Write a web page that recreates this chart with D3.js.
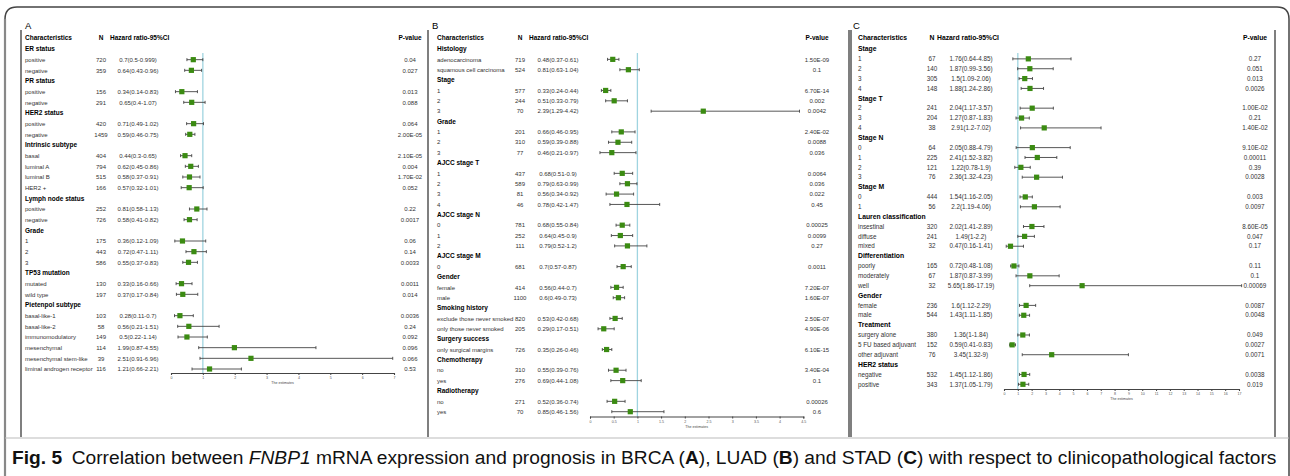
<!DOCTYPE html>
<html>
<head>
<meta charset="utf-8">
<script src="https://cdn.jsdelivr.net/npm/d3@7"></script>
<style>
  body { margin: 0; background: #fff; }
  svg { display: block; }
  text { font-family: "Liberation Sans", Arial, sans-serif; }
</style>
</head>
<body>
<svg id="fig" width="1290" height="476"></svg>
<script>
// ---- panel A : BRCA ----
const charA = ["ER status","positive","negative","PR status","positive","negative","HER2 status","positive","negative",
  "Intrinsic subtype","basal","luminal A","luminal B","HER2 +","Lymph node status","positive","negative",
  "Grade","1","2","3","TP53 mutation","mutated","wild type","Pietenpol subtype","basal-like-1","basal-like-2",
  "immunomodulatory","mesenchymal","mesenchymal stem-like","liminal androgen receptor"];
const nA  = [null,720,359,null,156,291,null,420,1459,null,404,794,515,166,null,252,726,null,175,443,586,null,130,197,null,103,58,149,114,39,116];
const hrA = [null,0.7,0.64,null,0.34,0.65,null,0.71,0.59,null,0.44,0.62,0.58,0.57,null,0.81,0.58,null,0.36,0.72,0.55,null,0.33,0.37,null,0.28,0.56,0.5,1.99,2.51,1.21];
const loA = [null,0.5,0.43,null,0.14,0.4,null,0.49,0.46,null,0.3,0.45,0.37,0.32,null,0.58,0.41,null,0.12,0.47,0.37,null,0.16,0.17,null,0.11,0.21,0.22,0.87,0.91,0.66];
const hiA = [null,0.999,0.96,null,0.83,1.07,null,1.02,0.75,null,0.65,0.86,0.91,1.01,null,1.13,0.82,null,1.09,1.11,0.83,null,0.66,0.84,null,0.7,1.51,1.14,4.55,6.96,2.21];
const pA  = [null,"0.04","0.027",null,"0.013","0.088",null,"0.064","2.00E-05",null,"2.10E-05","0.004","1.70E-02","0.052",null,"0.22","0.0017",
  null,"0.06","0.14","0.0033",null,"0.0011","0.014",null,"0.0036","0.24","0.092","0.096","0.066","0.53"];
const ticksA = [0,1,2,3,4,5,6,7];

// ---- panel B : LUAD ----
const charB = ["Histology","adenocarcinoma","squamous cell carcinoma","Stage","1","2","3","Grade","1","2","3",
  "AJCC stage T","1","2","3","4","AJCC stage N","0","1","2","AJCC stage M","0","Gender","female","male",
  "Smoking history","exclude those never smoked","only those never smoked","Surgery success","only surgical margins",
  "Chemotherapy","no","yes","Radiotherapy","no","yes"];
const nB  = [null,719,524,null,577,244,70,null,201,310,77,null,437,589,81,46,null,781,252,111,null,681,null,414,1100,null,820,205,null,726,null,310,276,null,271,70];
const hrB = [null,0.48,0.81,null,0.33,0.51,2.39,null,0.66,0.59,0.46,null,0.68,0.79,0.56,0.78,null,0.68,0.64,0.79,null,0.7,null,0.56,0.6,null,0.53,0.29,null,0.35,null,0.55,0.69,null,0.52,0.85];
const loB = [null,0.37,0.63,null,0.24,0.33,1.29,null,0.46,0.39,0.21,null,0.51,0.63,0.34,0.42,null,0.55,0.45,0.52,null,0.57,null,0.44,0.49,null,0.42,0.17,null,0.26,null,0.39,0.44,null,0.36,0.46];
const hiB = [null,0.61,1.04,null,0.44,0.79,4.42,null,0.95,0.88,0.97,null,0.9,0.99,0.92,1.47,null,0.84,0.9,1.2,null,0.87,null,0.7,0.73,null,0.68,0.51,null,0.46,null,0.76,1.08,null,0.74,1.56];
const pB  = [null,"1.50E-09","0.1",null,"6.70E-14","0.002","0.0042",null,"2.40E-02","0.0088","0.036",null,"0.0064","0.036","0.022","0.45",
  null,"0.00025","0.0099","0.27",null,"0.0011",null,"7.20E-07","1.60E-07",null,"2.50E-07","4.90E-06",null,"6.10E-15",null,"3.40E-04","0.1",null,"0.00026","0.6"];
const ticksB = [0,0.5,1,1.5,2,2.5,3,3.5,4,4.5];

// ---- panel C : STAD ----
const charC = ["Stage","1","2","3","4","Stage T","2","3","4","Stage N","0","1","2","3","Stage M","0","1",
  "Lauren classification","insestinal","diffuse","mixed","Differentiation","poorly","moderately","well",
  "Gender","female","male","Treatment","surgery alone","5 FU based adjuvant","other adjuvant","HER2 status","negative","positive"];
const nC  = [null,67,140,305,148,null,241,204,38,null,64,225,121,76,null,444,56,null,320,241,32,null,165,67,32,null,236,544,null,380,152,76,null,532,343];
const hrC = [null,1.76,1.87,1.5,1.88,null,2.04,1.27,2.91,null,2.05,2.41,1.22,2.36,null,1.54,2.2,null,2.02,1.49,0.47,null,0.72,1.87,5.65,null,1.6,1.43,null,1.36,0.59,3.45,null,1.45,1.37];
const loC = [null,0.64,0.99,1.09,1.24,null,1.17,0.87,1.2,null,0.88,1.52,0.78,1.32,null,1.16,1.19,null,1.41,1,0.16,null,0.48,0.87,1.86,null,1.12,1.11,null,1,0.41,1.32,null,1.12,1.05];
const hiC = [null,4.85,3.56,2.06,2.86,null,3.57,1.83,7.02,null,4.79,3.82,1.9,4.23,null,2.05,4.06,null,2.89,2.2,1.41,null,1.08,3.99,17.19,null,2.29,1.85,null,1.84,0.83,9,null,1.86,1.79];
const pC  = [null,"0.27","0.051","0.013","0.0026",null,"1.00E-02","0.21","1.40E-02",null,"9.10E-02","0.00011","0.39","0.0028",null,"0.003","0.0097",
  null,"8.60E-05","0.047","0.17",null,"0.11","0.1","0.00069",null,"0.0087","0.0048",null,"0.049","0.0027","0.0071",null,"0.0038","0.019"];
const ticksC = [0,1,2,3,4,5,6,7,8,9,10,11,12,13,14,15,16,17];

const svg = d3.select("#fig");
const green = "#3b8b12";

// outer frame (rounded top corners)
svg.append("path")
  .attr("d", "M5,476 L5,19 Q5,7 17,7 L1277,7 Q1289,7 1289,19 L1289,476")
  .attr("fill", "none").attr("stroke", "#444").attr("stroke-width", 1.5);
svg.append("line").attr("x1", 5).attr("x2", 5).attr("y1", 19).attr("y2", 476)
  .attr("stroke", "#888").attr("stroke-width", 2.2);

function drawPanel(p) {
  const g = svg.append("g");
  const rows = d3.range(p.chars.length);
  const y = d3.scalePoint().domain(rows).range([p.top, p.bottom]);
  const x = d3.scaleLinear().domain([p.ticks[0], p.ticks[p.ticks.length - 1]]).range(p.xr);

  // panel borders
  p.borders.forEach(bx => {
    g.append("line").attr("x1", bx).attr("x2", bx).attr("y1", 30).attr("y2", 437)
      .attr("stroke", "#555").attr("stroke-width", 1.5);
  });

  g.append("text").attr("x", p.labelX).attr("y", 29).attr("font-size", 9.5).attr("fill", "#000").text(p.label);

  // header row
  const hy = 40;
  const head = (tx, t, anchor) => g.append("text").attr("x", tx).attr("y", hy).attr("text-anchor", anchor)
    .attr("font-size", p.fs + 0.5).attr("font-weight", "bold").attr("fill", "#000").text(t);
  head(p.charX, "Characteristics", "start");
  head(p.nX, "N", "middle");
  head(p.hrHeadX, "Hazard ratio-95%CI", "start");
  head(p.pX, "P-value", "middle");

  // reference line at HR = 1
  g.append("line").attr("x1", x(1)).attr("x2", x(1)).attr("y1", 53).attr("y2", p.axisY)
    .attr("stroke", "#9fd4e0").attr("stroke-width", 1.3);

  rows.forEach(i => {
    const yy = y(i);
    const isHead = p.n[i] === null;
    g.append("text").attr("x", p.charX).attr("y", yy + 2.2)
      .attr("font-size", isHead ? p.fs + 0.5 : p.fs)
      .attr("font-weight", isHead ? "bold" : "normal")
      .attr("fill", isHead ? "#000" : "#333")
      .text(p.chars[i]);
    if (isHead) return;
    g.append("text").attr("x", p.nX).attr("y", yy + 2.2).attr("text-anchor", "middle")
      .attr("font-size", p.fs).attr("fill", "#333").text(p.n[i]);
    g.append("text").attr("x", p.hrX).attr("y", yy + 2.2).attr("text-anchor", "middle")
      .attr("font-size", p.fs).attr("fill", "#333").text(`${p.hr[i]}(${p.lo[i]}-${p.hi[i]})`);
    g.append("text").attr("x", p.pX).attr("y", yy + 2.2).attr("text-anchor", "middle")
      .attr("font-size", p.fs).attr("fill", "#333").text(p.p[i]);

    // confidence interval with end caps
    g.append("line").attr("x1", x(p.lo[i])).attr("x2", x(p.hi[i])).attr("y1", yy).attr("y2", yy)
      .attr("stroke", "#444").attr("stroke-width", 0.9);
    [p.lo[i], p.hi[i]].forEach(v => {
      g.append("line").attr("x1", x(v)).attr("x2", x(v)).attr("y1", yy - 1.5).attr("y2", yy + 1.5)
        .attr("stroke", "#444").attr("stroke-width", 0.9);
    });
    g.append("rect").attr("x", x(p.hr[i]) - 2.6).attr("y", yy - 2.6).attr("width", 5.2).attr("height", 5.2)
      .attr("fill", green);
  });

  // x axis
  const ax = g.append("g").attr("transform", `translate(0,${p.axisY})`)
    .call(d3.axisBottom(x).tickValues(p.ticks).tickSize(2).tickPadding(1.5).tickFormat(d => d));
  ax.select(".domain").attr("stroke", "#444").attr("stroke-width", 1.1);
  ax.selectAll(".tick line").attr("stroke", "#444");
  ax.selectAll(".tick text").attr("font-size", 3.6).attr("fill", "#555")
    .style("font-family", "Liberation Sans, Arial, sans-serif");
  g.append("text").attr("x", (p.xr[0] + p.xr[1]) / 2).attr("y", p.axisY + 11).attr("text-anchor", "middle")
    .attr("font-size", 3.6).attr("fill", "#444").text("The estimates");
}

drawPanel({ label: "A", labelX: 25, chars: charA, n: nA, hr: hrA, lo: loA, hi: hiA, p: pA, ticks: ticksA,
  top: 49, bottom: 369, fs: 6, charX: 25, nX: 101, hrX: 138, hrHeadX: 110, pX: 410,
  xr: [171, 394], axisY: 373, borders: [21, 428] });
drawPanel({ label: "B", labelX: 432, chars: charB, n: nB, hr: hrB, lo: loB, hi: hiB, p: pB, ticks: ticksB,
  top: 49, bottom: 411.7, fs: 6, charX: 437, nX: 520, hrX: 558, hrHeadX: 529, pX: 817,
  xr: [590, 803.3], axisY: 416.5, borders: [849] });
drawPanel({ label: "C", labelX: 853, chars: charC, n: nC, hr: hrC, lo: loC, hi: hiC, p: pC, ticks: ticksC,
  top: 49, bottom: 384.3, fs: 6.3, charX: 858, nX: 932, hrX: 971, hrHeadX: 937, pX: 1255,
  xr: [1004, 1239], axisY: 389, borders: [851, 1275] });

// caption
svg.append("line").attr("x1", 5).attr("x2", 1289).attr("y1", 438).attr("y2", 438)
  .attr("stroke", "#bbb").attr("stroke-width", 1);
const cap = svg.append("text").attr("x", 12).attr("y", 464).attr("font-size", 19.2).attr("fill", "#111");
cap.append("tspan").attr("font-weight", "bold").text("Fig. 5");
cap.append("tspan").text("\u2002Correlation between ");
cap.append("tspan").attr("font-style", "italic").text("FNBP1");
cap.append("tspan").text(" mRNA expression and prognosis in BRCA (");
cap.append("tspan").attr("font-weight", "bold").text("A");
cap.append("tspan").text("), LUAD (");
cap.append("tspan").attr("font-weight", "bold").text("B");
cap.append("tspan").text(") and STAD (");
cap.append("tspan").attr("font-weight", "bold").text("C");
cap.append("tspan").text(") with respect to clinicopathological factors");
</script>
</body>
</html>
